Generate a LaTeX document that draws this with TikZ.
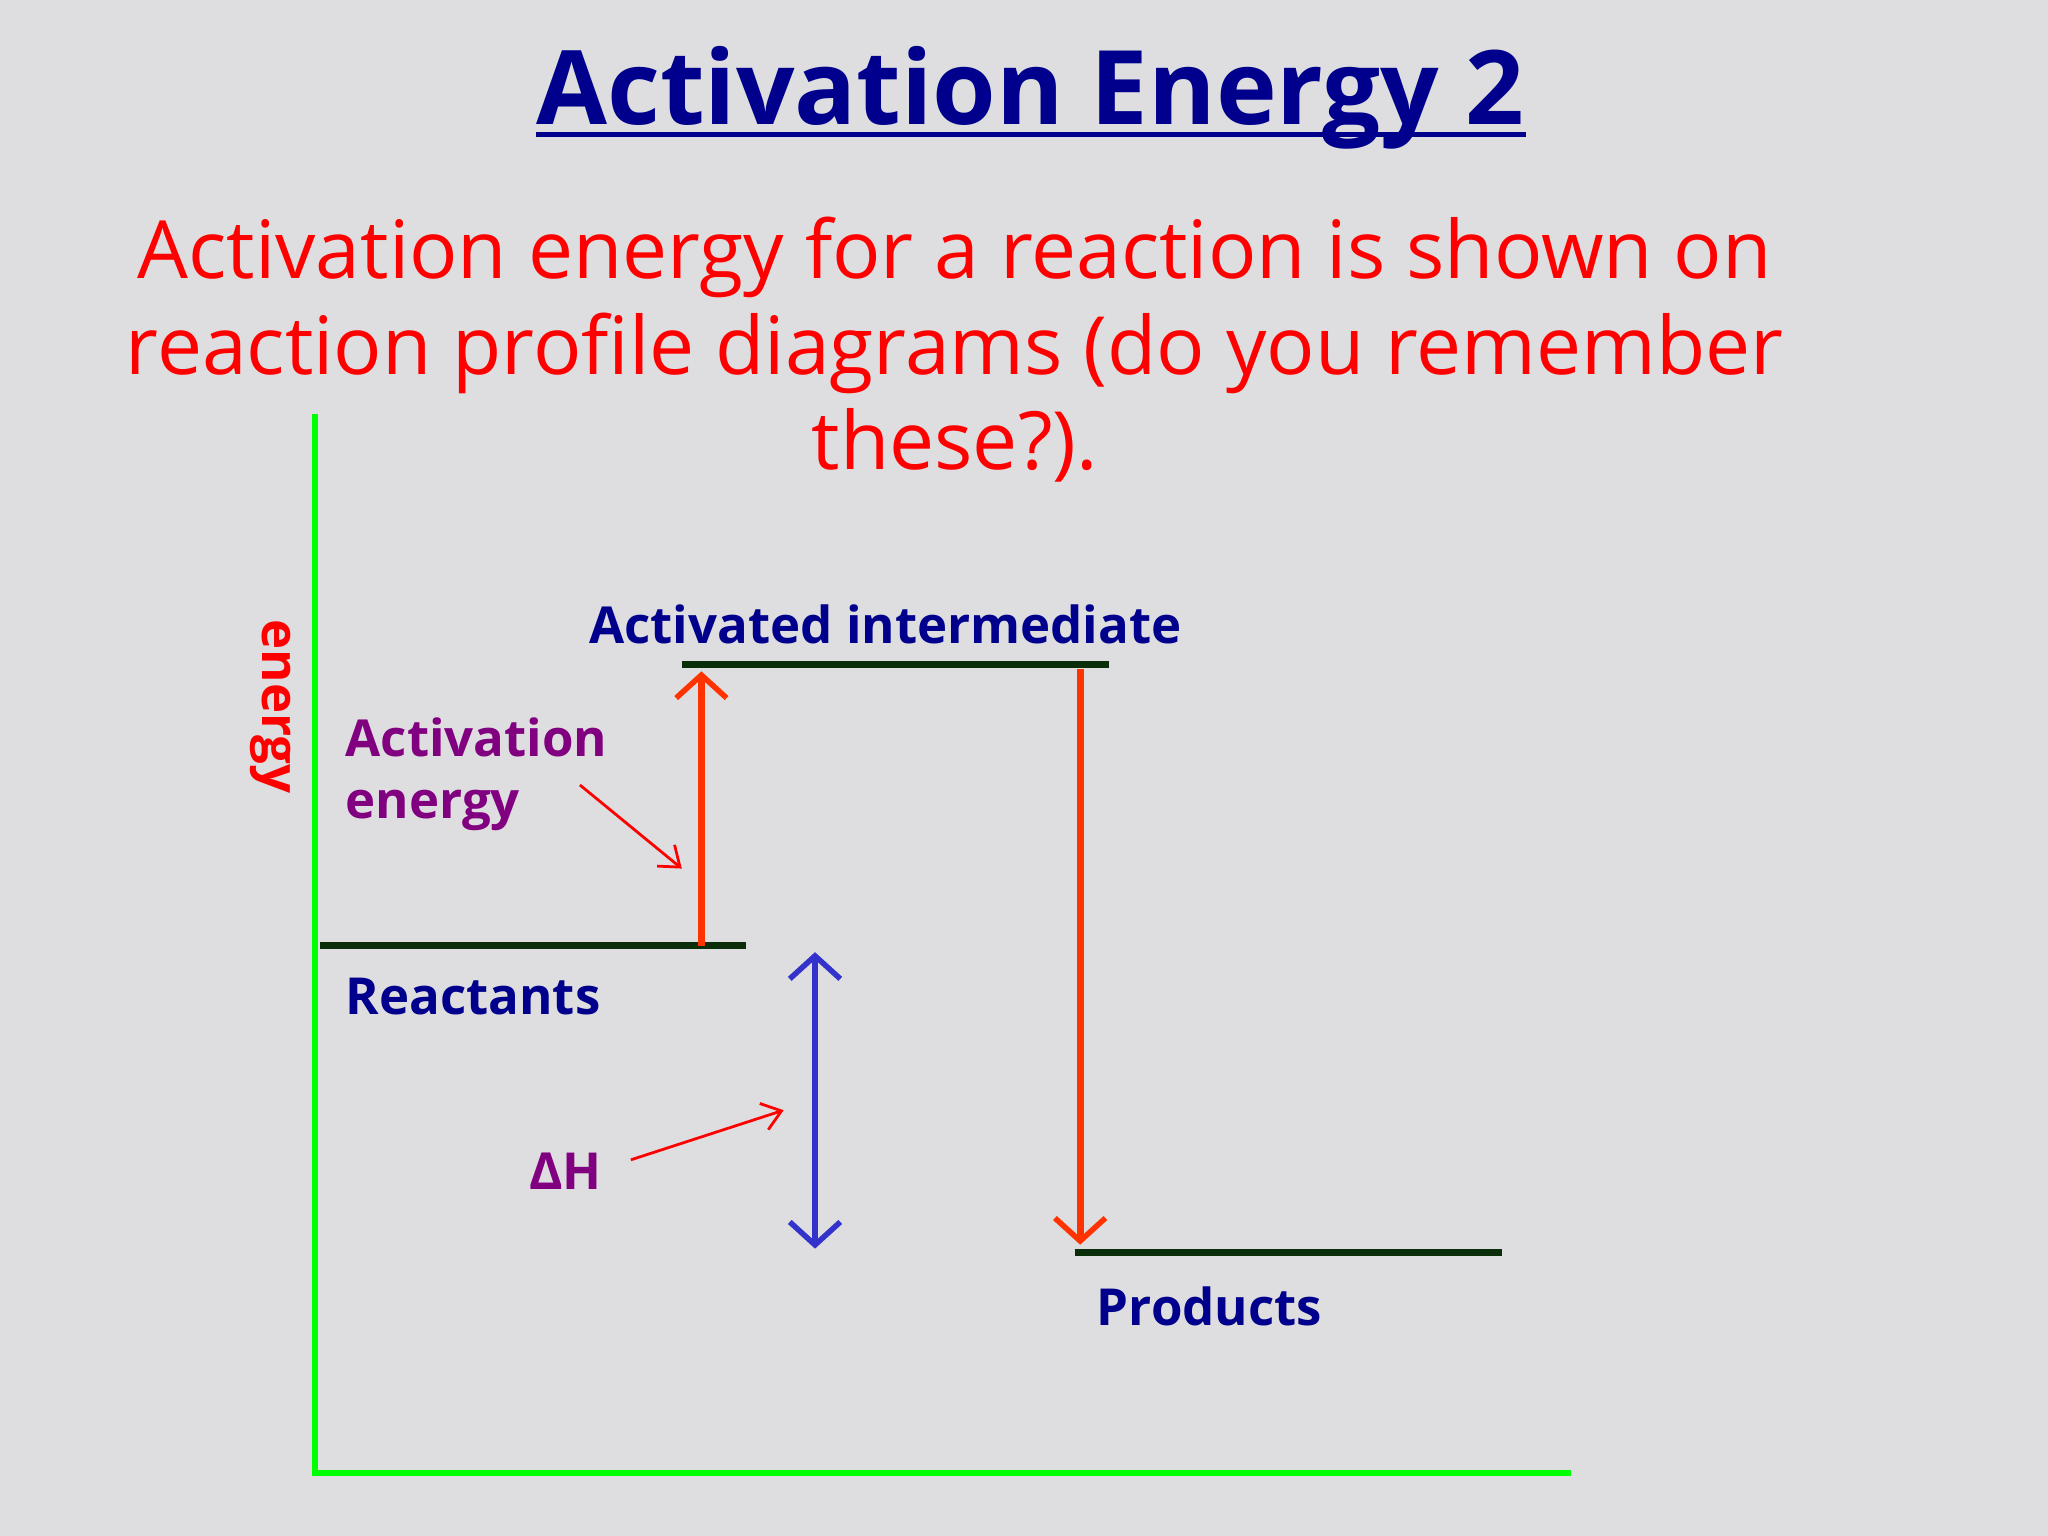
\documentclass[tikz,border=0pt]{standalone}
\usepackage{fontspec}
\setmainfont{Open Sans}
\usetikzlibrary{arrows.meta}
\definecolor{navy}{RGB}{0,0,140}
\definecolor{lvl}{RGB}{10,45,10}
\definecolor{ared}{RGB}{255,51,0}
\definecolor{ablue}{RGB}{51,51,204}
\definecolor{purp}{RGB}{128,0,128}
\definecolor{axisg}{RGB}{0,255,0}
\definecolor{bg}{RGB}{222,222,224}
\tikzset{
 level/.style={draw=lvl,line width=1.5pt},
 axis/.style={draw=axisg,line width=1.3pt},
 bigarrow/.style={line width=1.5pt,-{Straight Barb[length=5pt,width=11pt,line width=1.2pt]}},
 thinarrow/.style={draw=red,line width=0.6pt,-{Straight Barb[length=4pt,width=6pt]}},
 lab/.style={font=\bfseries\fontsize{11.1}{13.5}\selectfont,text=navy,inner sep=0pt}
}
\begin{document}
\begin{tikzpicture}[x=0.01cm,y=-0.01cm]
\fill[bg] (0,0) rectangle (1568,1176);
\useasboundingbox (0,0) rectangle (1568,1176);
\node[font=\bfseries\fontsize{22.4}{27}\selectfont,text=navy,inner sep=0pt] (title) at (789,75) {Activation Energy 2};
\coordinate (u1) at (410,103); \coordinate (u2) at (1168,103);
\draw[navy,line width=1.2pt] (u1) -- (u2);
\node[font=\fontsize{17.5}{20.8}\selectfont,text=red,align=center] (sub) at (731,268) {Activation energy for a reaction is shown on\\reaction profile diagrams (do you remember\\these?).};
\coordinate (o) at (241,1128);
\coordinate (yt) at (241,317);
\coordinate (xe) at (1203,1128);
\draw[axis] (yt) -- (o) -- (xe);
\node[font=\bfseries\fontsize{11.1}{13}\selectfont,text=red,rotate=-90] (en) at (207,541) {energy};
\coordinate (r1) at (245,724); \coordinate (r2) at (571,724);
\coordinate (a1) at (522,509); \coordinate (a2) at (849,509);
\coordinate (p1) at (823,959); \coordinate (p2) at (1150,959);
\draw[level] (r1) -- (r2);
\draw[level] (a1) -- (a2);
\draw[level] (p1) -- (p2);
\coordinate (ua) at (537,724); \coordinate (ub) at (537,514);
\draw[bigarrow,ared] (ua) -- (ub);
\coordinate (da) at (827,512); \coordinate (db) at (827,953);
\draw[bigarrow,ared] (da) -- (db);
\coordinate (ha) at (624,729); \coordinate (hb) at (624,956);
\draw[line width=1.5pt,ablue,{Straight Barb[length=5pt,width=11pt,line width=1.2pt]}-{Straight Barb[length=5pt,width=11pt,line width=1.2pt]}] (ha) -- (hb);
\node[lab] (ai) at (678,478) {Activated intermediate};
\node[lab,text=purp,align=left,anchor=west] (ae) at (264,593) {Activation\\energy};
\node[lab,anchor=west] (re) at (264,763) {Reactants};
\node[lab] (pr) at (926,1000) {Products};
\node[lab,text=purp] (dh) at (433,897) {ΔH};
\coordinate (t1) at (444,601); \coordinate (t2) at (522,665);
\draw[thinarrow] (t1) -- (t2);
\coordinate (t3) at (483,888); \coordinate (t4) at (600,850);
\draw[thinarrow] (t3) -- (t4);
\end{tikzpicture}
\end{document}
